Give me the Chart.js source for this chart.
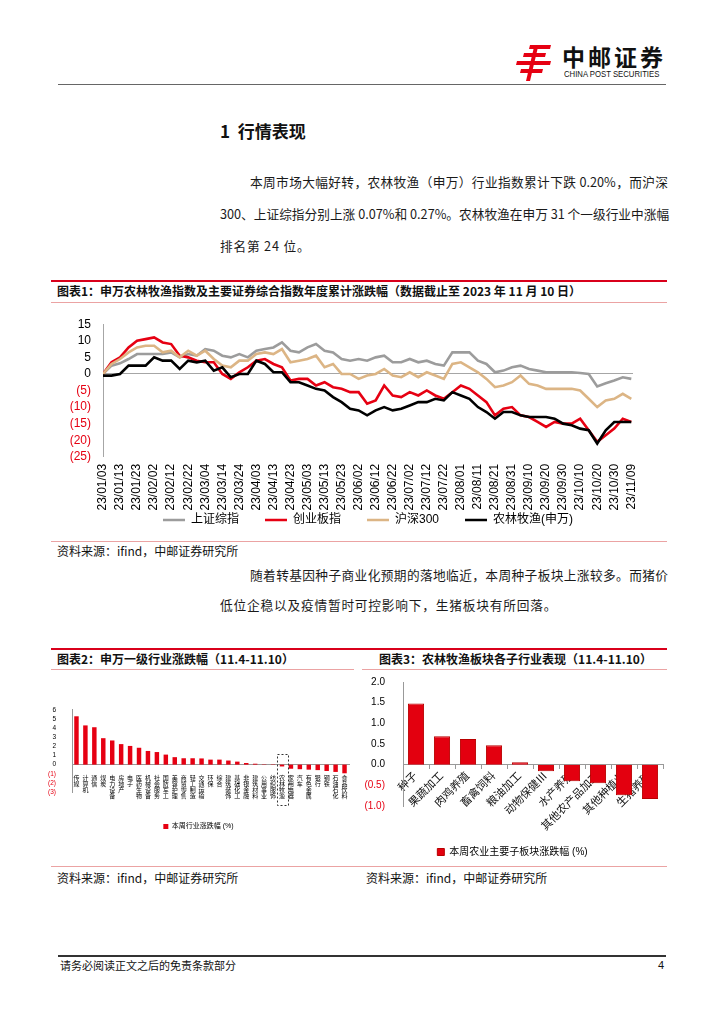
<!DOCTYPE html>
<html>
<head>
<meta charset="utf-8">
<script src="https://cdn.jsdelivr.net/npm/chart.js@4.4.0/dist/chart.umd.min.js"></script>
<style>
  body { margin: 0; background: #fff; }
  #page { position: relative; width: 724px; height: 1024px; overflow: hidden; background: #fff;
          font-family: "Liberation Sans", "Noto Sans CJK SC", sans-serif; color: #111; }
  .abs { position: absolute; white-space: nowrap; }
  .line { position: absolute; }
  .para { position: absolute; font-size: 12.7px; line-height: 20px; white-space: nowrap;
          font-family: "Noto Sans CJK SC", sans-serif; color: #1a1a1a; }
  .just { text-align: justify; text-align-last: justify; }
  .ftitle { position: absolute; font-size: 12px; font-weight: bold; line-height: 16px; white-space: nowrap;
            font-family: "Noto Sans CJK SC", sans-serif; color: #111; }
  .src { position: absolute; font-size: 12px; line-height: 16px; white-space: nowrap;
         font-family: "Noto Sans CJK SC", sans-serif; color: #111; }
  canvas { position: absolute; }
</style>
</head>
<body>
<div id="page">
  <!-- header -->
  <svg class="abs" style="left:515px;top:45px" width="36" height="36" viewBox="0 0 36 36">
    <g fill="#e60012">
      <polygon points="15,0 36,0 35,4 14,4"/>
      <polygon points="9,8 31,8 30,12 8,12"/>
      <polygon points="2,16 36,16 35,20 1,20"/>
      <polygon points="6,24 28,24 27,28 5,28"/>
      <polygon points="19,2 23,2 15,36 11,36"/>
    </g>
  </svg>
  <div class="abs" style="left:562px;top:43px;font-size:23px;line-height:26px;font-weight:bold;letter-spacing:3px;font-family:'Noto Sans CJK SC';">中邮证券</div>
  <div class="abs" style="left:564px;top:69px;font-size:9px;line-height:10px;transform:scaleX(0.86);transform-origin:left top;">CHINA POST SECURITIES</div>
  <div class="line" style="left:58px;top:84px;width:608px;height:1px;background:#666;"></div>

  <div class="abs" style="left:220px;top:120px;font-size:17px;line-height:22px;font-weight:bold;font-family:'Noto Sans CJK SC';">1&nbsp;&nbsp;行情表现</div>

  <div class="para just" style="left:250px;top:172px;width:418px;">本周市场大幅好转，农林牧渔（申万）行业指数累计下跌 0.20%，而沪深</div>
  <div class="para just" style="left:220px;top:204px;width:448px;">300、上证综指分别上涨 0.07%和 0.27%。农林牧渔在申万 31 个一级行业中涨幅</div>
  <div class="para" style="left:220px;top:236px;letter-spacing:0.8px;">排名第 24 位。</div>

  <!-- figure 1 -->
  <div class="line" style="left:51px;top:280px;width:616px;height:2px;background:#d9001b;"></div>
  <div class="ftitle" style="left:57px;top:283px;">图表1：申万农林牧渔指数及主要证券综合指数年度累计涨跌幅（数据截止至 2023 年 11 月 10 日）</div>
  <div class="line" style="left:51px;top:302px;width:616px;height:1px;background:#eba3a3;"></div>
  <div class="line" style="left:51px;top:541px;width:616px;height:1px;background:#eba3a3;"></div>
  <div class="src" style="left:57px;top:543px;">资料来源：ifind，中邮证券研究所</div>

  <div class="para just" style="left:250px;top:565px;width:418px;">随着转基因种子商业化预期的落地临近，本周种子板块上涨较多。而猪价</div>
  <div class="para" style="left:220px;top:595px;letter-spacing:0.8px;">低位企稳以及疫情暂时可控影响下，生猪板块有所回落。</div>

  <!-- figures 2 and 3 -->
  <div class="line" style="left:51px;top:648px;width:616px;height:2px;background:#d9001b;"></div>
  <div class="ftitle" style="left:57px;top:651px;">图表2：申万一级行业涨跌幅（11.4-11.10）</div>
  <div class="ftitle" style="left:379px;top:651px;">图表3：农林牧渔板块各子行业表现（11.4-11.10）</div>
  <div class="line" style="left:51px;top:669px;width:303px;height:1px;background:#eba3a3;"></div>
  <div class="line" style="left:362px;top:669px;width:305px;height:1px;background:#eba3a3;"></div>
  <div class="line" style="left:51px;top:866px;width:616px;height:1px;background:#eba3a3;"></div>
  <div class="src" style="left:57px;top:870px;">资料来源：ifind，中邮证券研究所</div>
  <div class="src" style="left:366px;top:870px;">资料来源：ifind，中邮证券研究所</div>

  <!-- footer -->
  <div class="line" style="left:58px;top:955px;width:608px;height:1.5px;background:#333;"></div>
  <div class="abs" style="left:60px;top:958px;font-size:11px;line-height:14px;font-family:'Noto Sans CJK SC';">请务必阅读正文之后的免责条款部分</div>
  <div class="abs" style="left:658px;top:958px;font-size:11px;line-height:14px;">4</div>

  <canvas id="chart1" width="640" height="231" style="left:50px;top:305px;"></canvas>
  <canvas id="chart2" width="308" height="142" style="left:48px;top:698px;"></canvas>
  <canvas id="chart3" width="304" height="201" style="left:362px;top:666px;"></canvas>
</div>

<script>
// ---- Chart 1: cumulative change, days counted from 2023-01-03
const dateTicks = ['23/01/03','23/01/13','23/01/23','23/02/02','23/02/12','23/02/22','23/03/04','23/03/14',
  '23/03/24','23/04/03','23/04/13','23/04/23','23/05/03','23/05/13','23/05/23','23/06/02','23/06/12',
  '23/06/22','23/07/02','23/07/12','23/07/22','23/08/01','23/08/11','23/08/21','23/08/31','23/09/10',
  '23/09/20','23/09/30','23/10/10','23/10/20','23/10/30','23/11/09'];
const dayOffsets = [0,5,10,15,20,25,30,35,40,45,50,55,60,65,70,75,80,85,90,95,100,105,110,115,120,125,130,135,
  140,145,150,155,160,165,170,175,180,185,190,195,200,205,210,215,220,225,230,235,240,245,250,255,260,265,
  270,275,280,285,290,295,300,305,310];
const shComposite = [0,2.5,3.2,4.5,6,6,6,6,6.5,5,6,5.5,7.5,7,5.5,5,6,5,7,7.5,8,9.5,7,6.5,8,9,7,6.5,
  4.5,4,4.5,4,5,5.5,3.5,3.5,4.5,3.5,4,3,2.5,6.5,6.5,6.5,4,3,0.5,1,2,2.5,1.5,1,0.5,0.5,
  0.5,0.5,0.3,0,-3.8,-2.8,-2,-1,-1.5];
const chinext = [0,3.5,5,8,10,10.5,11,9.5,9,5.5,5,4,3.5,3.5,0,-1.5,0.5,2,4,4.5,3,2,-2,-1.5,-1.5,-3.5,-2.5,-4,
  -4.5,-5.5,-5.5,-9,-8,-3.5,-6.5,-7,-5.5,-6.5,-5,-6.5,-7.5,-5.5,-3.5,-4.5,-6.5,-8.5,-12.5,-10.5,-10,-12.5,
  -13,-14.5,-16,-14.5,-15,-15,-13.5,-17,-20.5,-18.5,-16.5,-13.5,-14.5];
const hs300 = [0,3,4.5,6.5,8,8.5,8.5,6.5,7,5,7,5.5,7,4.5,2.5,2,4,4,6,6.5,6,7.5,3.5,4,4.5,5.5,2,3,
  0,0,-1.5,-0.5,0,1.5,-0.5,-1,0.5,-1,0.5,-0.5,-1.5,3,3.5,2,0.5,-1.5,-4,-3.5,-2.5,-0.5,-3,-3.5,-4.5,-4.5,
  -4.5,-4.5,-5,-7.5,-10,-8,-7.5,-6,-7.5];
const agriSW = [-0.5,-0.5,0,2.5,2.5,2.5,5,4,4,1.5,4,3.5,4,1,2,-1,0,0,4,3,0.5,0.5,-2.5,-2.5,-3.5,-4.5,-5,-7,
  -8.5,-10.5,-11,-12.5,-11,-10,-11,-10.5,-9.5,-8.5,-8.5,-7.5,-8,-5.5,-6.5,-7.5,-10,-11.5,-13.5,-11.5,-11.5,
  -12.5,-13,-13,-13,-13.5,-15,-15.5,-16.5,-17,-21,-17,-14.5,-14.5,-14.5];
const seriesNames = ['上证综指', '创业板指', '沪深300', '农林牧渔(申万)'];

// ---- Chart 2: SW level-1 industries, weekly change (%)
const industries = ['传媒','计算机','通信','煤炭','电力设备','房地产','电子','医药生物','机械设备','社会服务',
  '国防军工','美容护理','商贸零售','轻工制造','交通运输','环保','综合','建筑装饰','基础化工','非银金融',
  '建筑材料','公用事业','纺织服饰','农林牧渔','家用电器','汽车','有色金属','银行','钢铁','石油石化','食品饮料'];
const industryChg = [5.3,4.3,4.1,2.9,2.65,2.25,2.05,1.85,1.5,1.38,1.1,0.82,0.7,0.7,0.68,0.55,0.55,0.45,
  0.33,0.18,0.1,0.04,-0.04,-0.2,-0.45,-0.5,-0.55,-0.6,-0.7,-0.8,-0.95];

// ---- Chart 3: agriculture sub-sectors, weekly change (%)
const subSectors = ['种子','果蔬加工','肉鸡养殖','畜禽饲料','粮油加工','动物保健Ⅲ','水产养殖','其他农产品加工','其他种植业','生猪养殖'];
const subSectorChg = [1.48,0.69,0.62,0.47,0.06,-0.16,-0.40,-0.45,-0.74,-0.83];

const RED = '#e60012';
Chart.defaults.font.family = '"Liberation Sans", "Noto Sans CJK SC", sans-serif';
Chart.defaults.color = '#000';
Chart.defaults.animation = false;

const negColor = ctx => (ctx.tick && ctx.tick.value < 0 ? RED : '#000');
const paren = v => (v < 0 ? '(' + (-v) + ')' : '' + v);

function toPoints(arr) {
  return arr.map((v, i) => ({ x: dayOffsets[i], y: v }));
}

// Chart 1 - line chart
new Chart(document.getElementById('chart1'), {
  type: 'line',
  data: {
    datasets: [
      { label: seriesNames[0], data: toPoints(shComposite), borderColor: '#9c9c9c', order: 3 },
      { label: seriesNames[1], data: toPoints(chinext), borderColor: RED, order: 2 },
      { label: seriesNames[2], data: toPoints(hs300), borderColor: '#dcb585', order: 1 },
      { label: seriesNames[3], data: toPoints(agriSW), borderColor: '#000', order: 0 }
    ].map(d => Object.assign(d, { borderWidth: 2.6, pointRadius: 0, tension: 0, fill: false, backgroundColor: d.borderColor }))
  },
  options: {
    responsive: false,
    layout: { padding: { top: 5, right: 57, left: 0, bottom: 0 } },
    scales: {
      x: {
        type: 'linear', min: 0, max: 311,
        position: { y: -25 },   // dates hang under the plot without taking layout room
        afterBuildTicks: axis => { axis.ticks = dateTicks.map((_, i) => ({ value: i * 10 })); },
        ticks: { minRotation: 90, maxRotation: 90, autoSkip: false, padding: 7,
                 font: { size: 12 }, callback: v => dateTicks[Math.round(v / 10)] },
        grid: { display: false, drawTicks: false },
        border: { display: false }
      },
      y: {
        min: -25, max: 15,
        afterFit: axis => { axis.width = 53; },
        ticks: { stepSize: 5, autoSkip: false, padding: 12, font: { size: 12 }, color: negColor, callback: paren },
        grid: { drawTicks: false, color: ctx => (ctx.tick && ctx.tick.value === 0 ? '#a6a6a6' : 'rgba(0,0,0,0)') },
        border: { display: true, color: '#a6a6a6', width: 1 }
      }
    },
    plugins: {
      legend: {
        position: 'bottom',
        fullSize: false,
        // empty title only pushes the legend row down below the date labels
        title: { display: true, text: ' ', font: { size: 1 }, padding: { top: 30, bottom: 0 } },
        labels: { usePointStyle: true, pointStyle: 'line', pointStyleWidth: 22, padding: 26,
                  font: { size: 12 }, color: '#000', sort: (a, b) => a.datasetIndex - b.datasetIndex }
      },
      tooltip: { enabled: false }
    }
  }
});

// dashed frame around the 农林牧渔 column
const highlightBox = {
  id: 'highlightBox',
  afterDatasetsDraw(chart) {
    const xs = chart.scales.x, ys = chart.scales.y, ctx = chart.ctx;
    const idx = industries.indexOf('农林牧渔');
    const w = xs.getPixelForValue(1) - xs.getPixelForValue(0);
    const cx = xs.getPixelForValue(idx);
    const top = ys.getPixelForValue(1.2), bottom = ys.getPixelForValue(-4.4);
    ctx.save();
    ctx.setLineDash([2, 2]);
    ctx.strokeStyle = '#333';
    ctx.lineWidth = 1;
    ctx.strokeRect(Math.round(cx - w * 0.6) + 0.5, Math.round(top) + 0.5, Math.round(w * 1.2), Math.round(bottom - top));
    ctx.restore();
  }
};

// Chart 2 - industries bar chart
new Chart(document.getElementById('chart2'), {
  type: 'bar',
  data: {
    labels: industries.map(s => s.split('')),
    datasets: [{ label: '本周行业涨跌幅 (%)', data: industryChg, backgroundColor: RED,
                 barPercentage: 0.5, categoryPercentage: 1 }]
  },
  options: {
    responsive: false,
    layout: { padding: { top: 10, right: 7, left: 0, bottom: 0 } },
    scales: {
      x: {
        position: { y: 0 },
        ticks: { autoSkip: false, maxRotation: 0, minRotation: 0, padding: 3,
                 font: { size: 6, lineHeight: 1 }, color: '#000' },
        grid: { display: false },
        border: { display: true, color: '#999' }
      },
      y: {
        min: -3, max: 6,
        afterFit: axis => { axis.width = 24; },
        ticks: { stepSize: 1, autoSkip: false, padding: 8, font: { size: 6.5 }, color: negColor, callback: paren },
        grid: { display: false },
        border: { display: true, color: '#999' }
      }
    },
    plugins: {
      legend: { position: 'bottom', labels: { boxWidth: 5, boxHeight: 5, padding: 31, font: { size: 7 } } },
      tooltip: { enabled: false }
    }
  },
  plugins: [highlightBox]
});

// Chart 3 - agriculture sub-sectors bar chart
new Chart(document.getElementById('chart3'), {
  type: 'bar',
  data: {
    labels: subSectors,
    datasets: [{ label: '本周农业主要子板块涨跌幅 (%)', data: subSectorChg, backgroundColor: '#e3000f',
                 borderColor: '#b80000', borderWidth: 1, barPercentage: 0.62, categoryPercentage: 1 }]
  },
  options: {
    responsive: false,
    layout: { padding: { top: 10, right: 3, left: 0, bottom: 0 } },
    scales: {
      x: {
        position: { y: 0 },
        ticks: { autoSkip: false, maxRotation: 45, minRotation: 45, padding: 1,
                 font: { size: 11 }, color: '#111' },
        grid: { display: true, drawOnChartArea: false, drawTicks: true, tickLength: 4, color: '#999', offset: true },
        border: { display: true, color: '#999' }
      },
      y: {
        min: -1, max: 2,
        afterFit: axis => { axis.width = 41; },
        ticks: { stepSize: 0.5, autoSkip: false, padding: 10, font: { size: 10 }, color: negColor,
                 callback: v => (v < 0 ? '(' + (-v).toFixed(1) + ')' : v.toFixed(1)) },
        grid: { display: false },
        border: { display: true, color: '#999' }
      }
    },
    plugins: {
      legend: { position: 'bottom', labels: { boxWidth: 7, boxHeight: 7, padding: 41, font: { size: 10 } } },
      tooltip: { enabled: false }
    }
  }
});
</script>
</body>
</html>
